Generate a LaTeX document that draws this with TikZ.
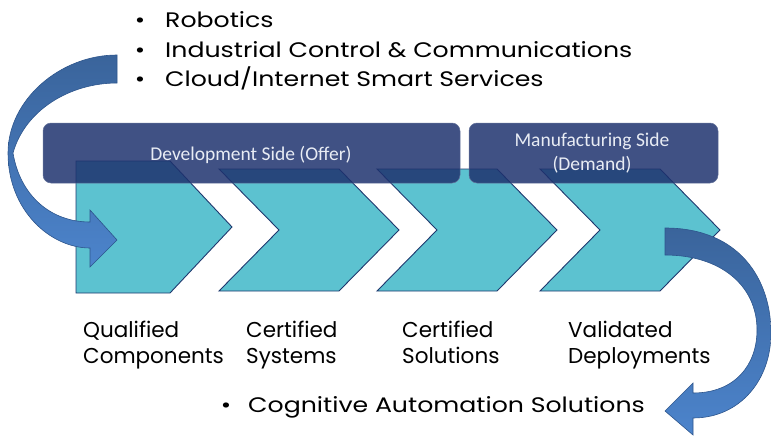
\documentclass[tikz,border=0pt]{standalone}
\usepackage{fontspec}
\setmainfont{Poppins}[FakeStretch=1.2]
\newfontfamily\stepfont{Poppins}
\newfontfamily\barfont{Carlito}

\definecolor{chevfill}{RGB}{92,194,208}
\definecolor{chevdraw}{RGB}{31,56,110}
\definecolor{barfill}{RGB}{30,50,110}
\definecolor{bartext}{RGB}{232,236,244}
\definecolor{arrtop}{RGB}{58,100,155}
\definecolor{arrbot}{RGB}{76,132,204}
\definecolor{arrdraw}{RGB}{45,85,140}

\begin{document}
\begin{tikzpicture}[x=1pt,y=-1pt, % 1 unite = 1 pixel de l'image
  chev/.style={fill=chevfill,draw=chevdraw,line width=0.9pt,line join=miter},
  sidebar/.style={fill=barfill,fill opacity=0.85,draw=barfill!70!white,line width=0.5pt,rounded corners=8pt},
  bartxt/.style={font=\barfont\fontsize{19.5}{24}\selectfont,text=bartext,align=center,inner sep=0},
  lbl/.style={font=\fontsize{21}{26}\selectfont,align=left,anchor=base west,inner sep=0},
  steplbl/.style={lbl,font=\stepfont\fontsize{21.5}{26}\selectfont},
  bigarrow/.style={top color=arrtop,bottom color=arrbot,draw=arrdraw,line width=0.6pt}]

% --------- PARAMETRES ----------
\def\ctop{169}    % haut des chevrons
\def\cbot{291}    % bas des chevrons
\def\cmid{230}    % pointe
\def\cbody{120}   % largeur du corps
\def\cnotch{60}   % profondeur de l'encoche
% --------------------------------

\useasboundingbox (0,0) rectangle (771,436);

% Premier chevron (bord gauche droit)
\draw[chev] (76,161) -- (170,161) -- (232,227) -- (170,293) -- (76,293) -- cycle;

% Chevrons 2..4
\foreach \l in {219,377,540}{
  \draw[chev] (\l,\ctop) -- (\l+\cbody,\ctop) -- (\l+\cbody+\cnotch,\cmid)
    -- (\l+\cbody,\cbot) -- (\l,\cbot) -- (\l+\cnotch,\cmid) -- cycle;
}

% Bandeaux
\draw[sidebar] (43,123) rectangle (460,183);
\draw[sidebar] (469,123) rectangle (718,183);
\node[bartxt,anchor=base] (dev) at (251,160) {Development Side (Offer)};
\node[bartxt,anchor=base] (mfg) at (592,170) {Manufacturing Side\\(Demand)};

% Fleche gauche (entree)
\draw[bigarrow] (117,55) .. controls (60,55) and (8,100) .. (8,153)
  .. controls (8,210) and (50,248) .. (90,248) -- (90,267) -- (117,240)
  -- (90,210) -- (90,222) .. controls (50,222) and (20,195) .. (13,153)
  .. controls (25,110) and (70,83) .. (117,83) -- cycle;

% Fleche droite (sortie)
\draw[bigarrow] (665,228) .. controls (740,228) and (771,280) .. (771,333)
  .. controls (771,380) and (740,418) .. (693,418) -- (693,435) -- (665,411)
  -- (693,383) -- (693,393) .. controls (735,393) and (757,365) .. (757,330)
  .. controls (757,285) and (720,255) .. (665,255) -- cycle;

% Liste du haut
\foreach \t [count=\i] in {Robotics,Industrial Control \& Communications,Cloud/Internet Smart Services}{
  \pgfmathsetmacro\yb{28+(\i-1)*29.5}
  \node[lbl,anchor=base] (bul\i) at (140,\yb) {\textbullet};
  \node[lbl] (item\i) at (165,\yb) {\t};
}

% Etapes (ligne de base = 2e ligne)
\node[steplbl] (qual) at (83,363) {Qualified\\Components};
\node[steplbl] (sys) at (246,363) {Certified\\Systems};
\node[steplbl] (sol) at (402,363) {Certified\\Solutions};
\node[steplbl] (dep) at (568,363) {Validated\\Deployments};

% Resultat
\node[lbl,anchor=base] (bulout) at (226,412) {\textbullet};
\node[lbl] (out) at (248,412) {Cognitive Automation Solutions};

\end{tikzpicture}
\end{document}
